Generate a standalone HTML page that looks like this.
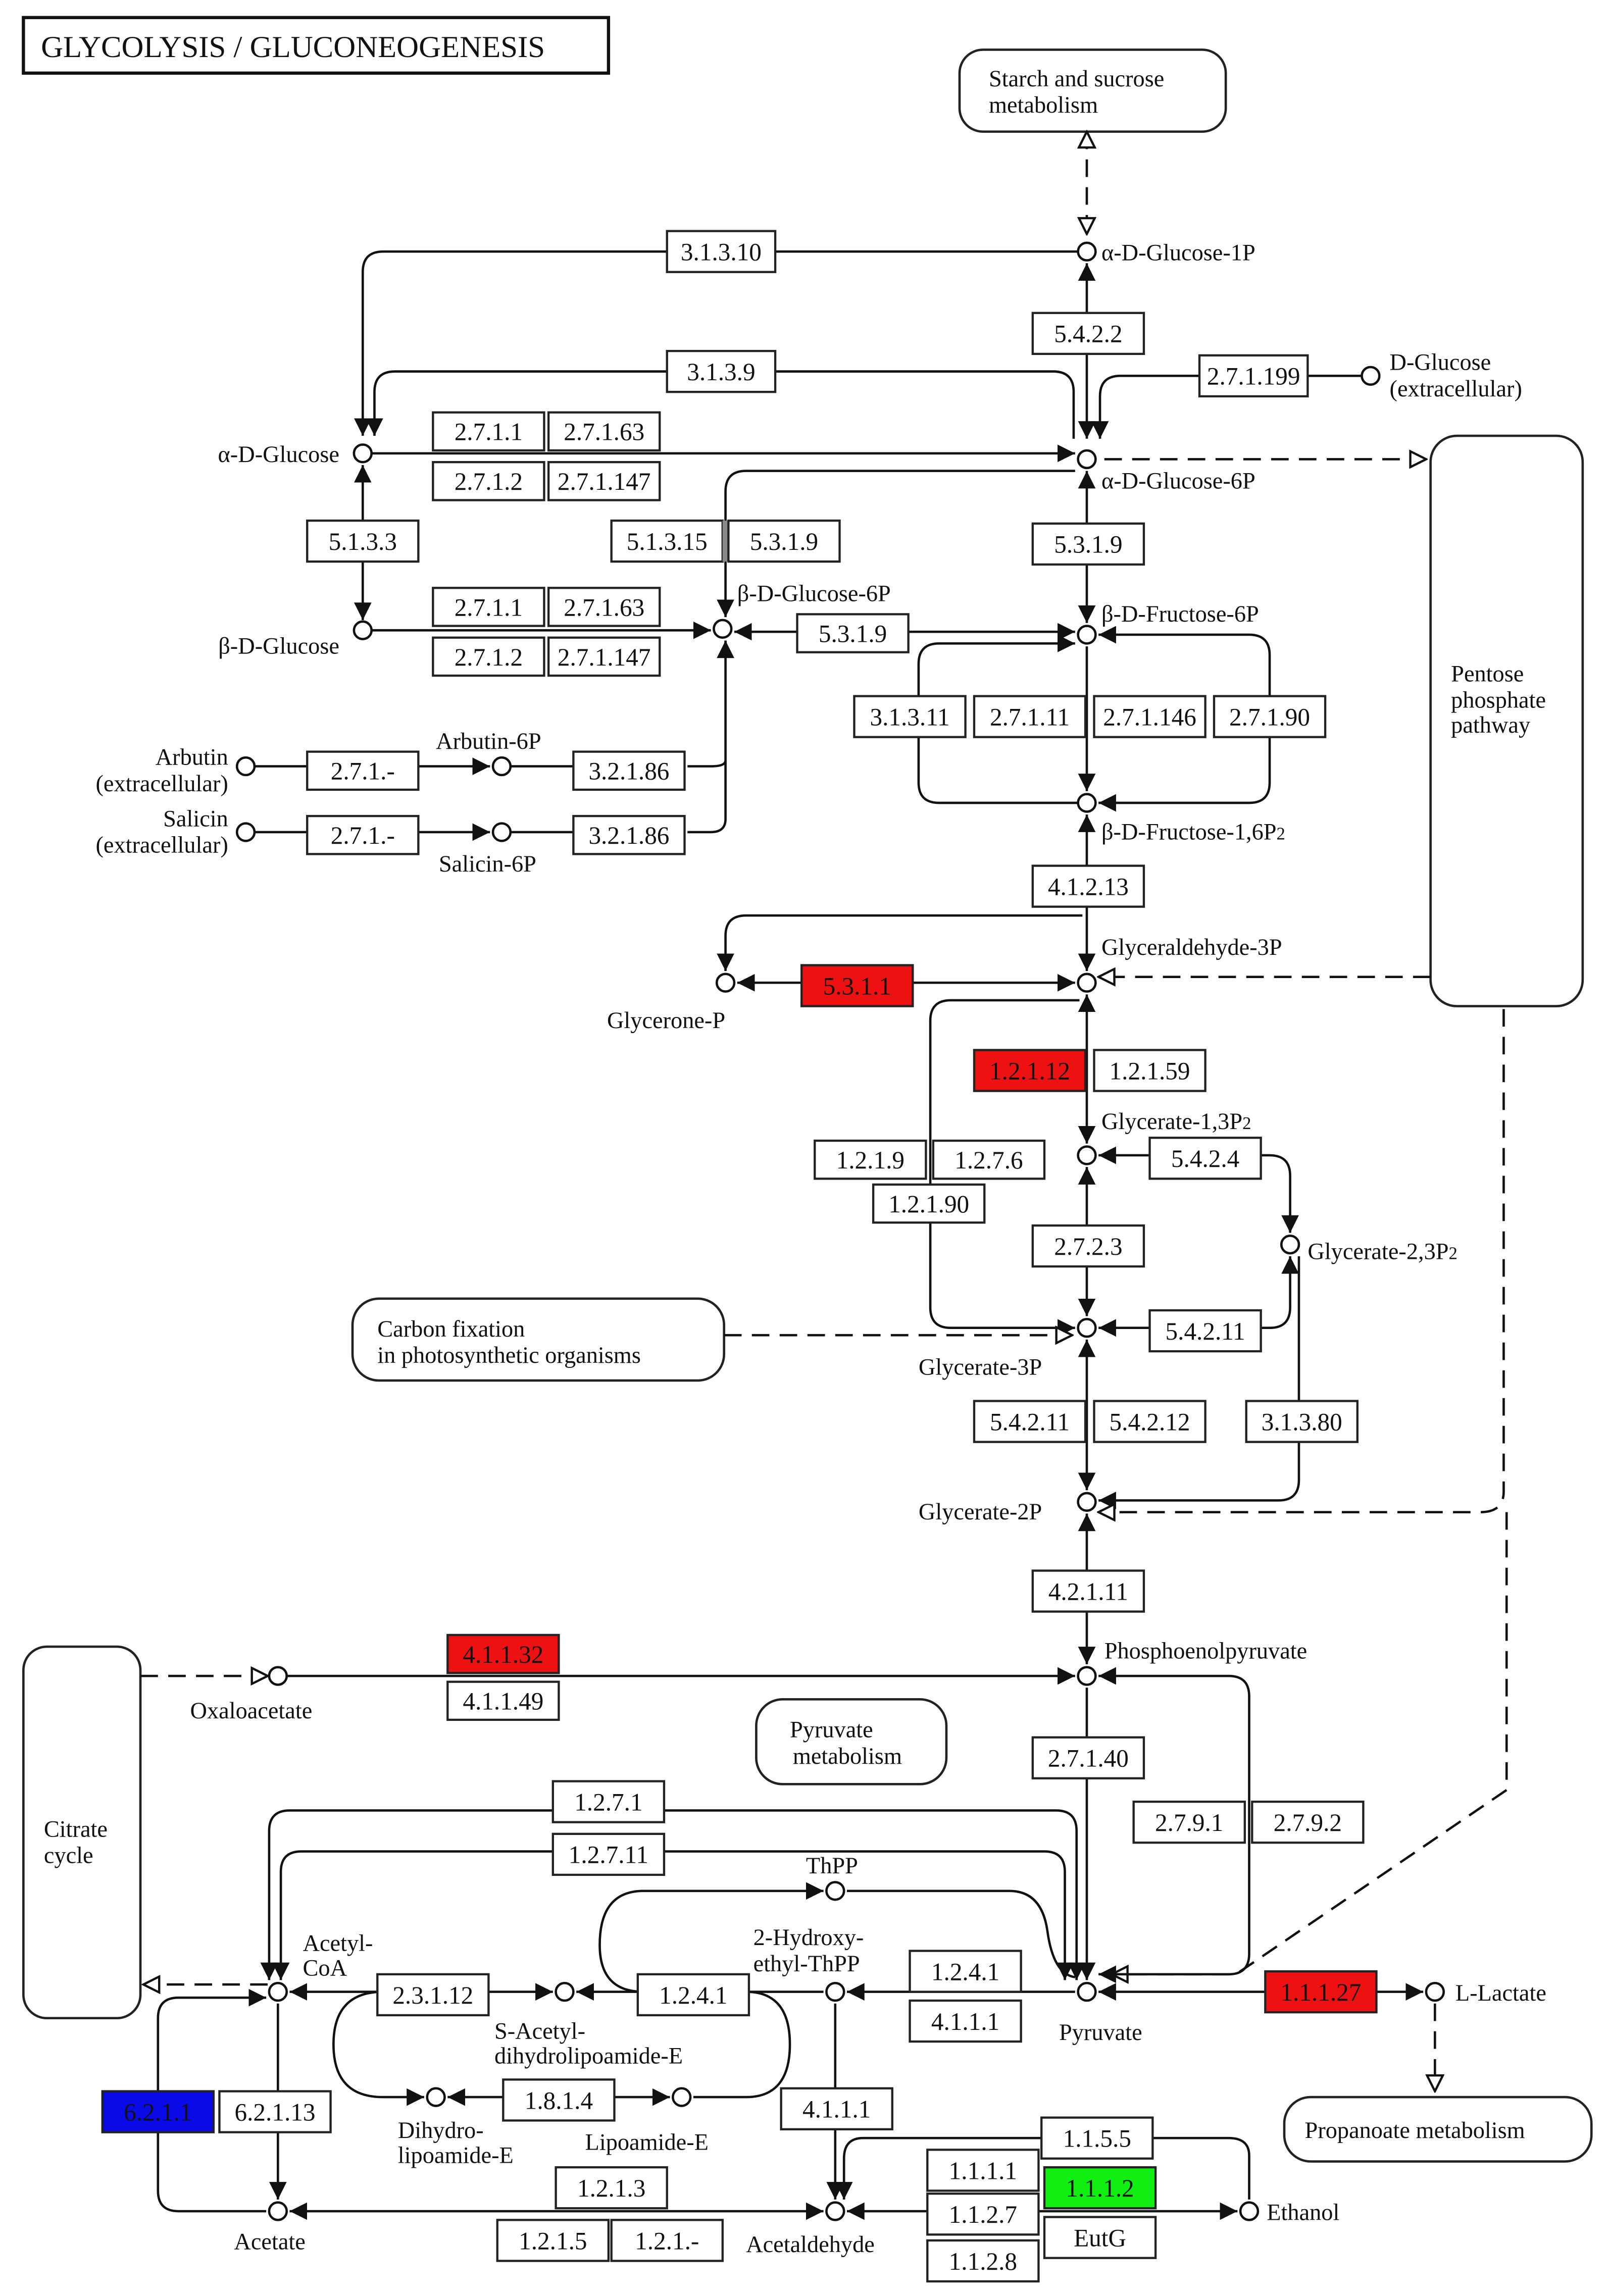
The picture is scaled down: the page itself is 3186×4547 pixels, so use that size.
<!DOCTYPE html>
<html><head><meta charset="utf-8"><style>
html,body{margin:0;padding:0;background:#fff}
svg{display:block}
text{font-family:"Liberation Serif",serif;fill:#111}
.b{fill:#fff;stroke:#222;stroke-width:1.5}
.t{font-size:17px;text-anchor:middle}
.l{font-size:16px}
.e{fill:none;stroke:#111;stroke-width:1.6}
.d{fill:none;stroke:#111;stroke-width:1.6;stroke-dasharray:12 7}
.n{fill:#fff;stroke:#111;stroke-width:1.6}
.m{fill:#fff;stroke:#222;stroke-width:1.6}
</style></head><body>
<svg width="3186" height="4547" viewBox="0 0 1100 1570" preserveAspectRatio="none" xmlns="http://www.w3.org/2000/svg">
<defs>
<marker id="a" viewBox="0 0 10 10" refX="10" refY="5" markerWidth="12" markerHeight="12" markerUnits="userSpaceOnUse" orient="auto-start-reverse"><path d="M0,0L10,5L0,10z" fill="#111"/></marker>
<marker id="o" viewBox="0 0 12 12" refX="11" refY="6" markerWidth="13" markerHeight="13" markerUnits="userSpaceOnUse" orient="auto-start-reverse"><path d="M1,1L11,6L1,11z" fill="#fff" stroke="#111" stroke-width="1.4"/></marker>
</defs>
<rect width="1100" height="1570" fill="#fff"/>
<rect x="16" y="12" width="400" height="38" fill="#fff" stroke="#111" stroke-width="2.2"/>
<text x="28" y="39" style="font-size:21px">GLYCOLYSIS / GLUCONEOGENESIS</text>

<rect class="m" x="656" y="34" width="182" height="56" rx="16"/>
<text class="l" x="676" y="59">Starch and sucrose</text><text class="l" x="676" y="77">metabolism</text>
<rect class="m" x="978" y="298" width="104" height="390" rx="18"/>
<text class="l" x="992" y="466">Pentose</text><text class="l" x="992" y="484">phosphate</text><text class="l" x="992" y="501">pathway</text>
<rect class="m" x="241" y="888" width="254" height="56" rx="18"/>
<text class="l" x="258" y="914">Carbon fixation</text><text class="l" x="258" y="932">in photosynthetic organisms</text>
<rect class="m" x="16" y="1126" width="80" height="254" rx="16"/>
<text class="l" x="30" y="1256">Citrate</text><text class="l" x="30" y="1274">cycle</text>
<rect class="m" x="517" y="1162" width="130" height="58" rx="18"/>
<text class="l" x="540" y="1188">Pyruvate</text><text class="l" x="542" y="1206">metabolism</text>
<rect class="m" x="878" y="1434" width="210" height="44" rx="18"/>
<text class="l" x="892" y="1462">Propanoate metabolism</text>

<path class="d" d="M743,90V160" marker-start="url(#o)" marker-end="url(#o)"/>
<path class="e" d="M743,180V300" marker-start="url(#a)" marker-end="url(#a)"/>
<path class="e" d="M737,172H262Q248,172 248,186V298" marker-end="url(#a)"/>
<path class="e" d="M734,300V268Q734,254 720,254H270Q256,254 256,268V298" marker-end="url(#a)"/>
<path class="e" d="M931,257H766Q752,257 752,271V300" marker-end="url(#a)"/>
<path class="e" d="M254,310H735" marker-end="url(#a)"/>
<path class="d" d="M755,314H975" marker-end="url(#o)"/>
<path class="e" d="M248,318V424" marker-start="url(#a)" marker-end="url(#a)"/>
<path class="e" d="M254,431H486" marker-end="url(#a)"/>
<path class="e" d="M735,322H510Q496,322 496,336V422" marker-end="url(#a)"/>
<path class="e" d="M502,432H735" marker-start="url(#a)" marker-end="url(#a)"/>
<path class="e" d="M496,438V520Q496,524 486,524H470M496,520V560Q496,569 486,569H470" marker-start="url(#a)"/>
<path class="e" d="M174,524H335" marker-end="url(#a)"/><path class="e" d="M349,524H392"/>
<path class="e" d="M174,569H335" marker-end="url(#a)"/><path class="e" d="M349,569H392"/>
<path class="e" d="M743,322V426" marker-start="url(#a)" marker-end="url(#a)"/>
<path class="e" d="M743,442V541" marker-end="url(#a)"/>
<path class="e" d="M735,440H642Q628,440 628,454V535Q628,549 642,549H737" marker-start="url(#a)"/>
<path class="e" d="M751,434H854Q868,434 868,448V535Q868,549 854,549H751" marker-start="url(#a)" marker-end="url(#a)"/>
<path class="e" d="M743,557V664" marker-start="url(#a)" marker-end="url(#a)"/>
<path class="e" d="M504,672H735" marker-start="url(#a)" marker-end="url(#a)"/>
<path class="e" d="M740,626H510Q496,626 496,640V664" marker-end="url(#a)"/>
<path class="d" d="M978,668H751" marker-end="url(#o)"/>
<path class="e" d="M743,680V782" marker-start="url(#a)" marker-end="url(#a)"/>
<path class="e" d="M738,684H650Q636,684 636,698V894Q636,908 650,908H735" marker-end="url(#a)"/>
<path class="e" d="M751,790H868Q882,790 882,804V843" marker-start="url(#a)" marker-end="url(#a)"/>
<path class="e" d="M743,798V900" marker-start="url(#a)" marker-end="url(#a)"/>
<path class="e" d="M882,859V894Q882,908 868,908H751" marker-start="url(#a)" marker-end="url(#a)"/>
<path class="d" d="M495,913H733" marker-end="url(#o)"/>
<path class="e" d="M743,916V1019" marker-start="url(#a)" marker-end="url(#a)"/>
<path class="e" d="M888,859V1012Q888,1026 874,1026H751" marker-end="url(#a)"/>
<path class="d" d="M1028,690V1020Q1028,1034 1012,1034H751" marker-end="url(#o)"/>
<path class="d" d="M1030,1034V1224L845,1350H760" marker-end="url(#o)"/>
<path class="e" d="M743,1035V1138" marker-start="url(#a)" marker-end="url(#a)"/>
<path class="d" d="M96,1146H183" marker-end="url(#o)"/>
<path class="e" d="M196,1146H735" marker-end="url(#a)"/>
<path class="e" d="M743,1154V1354" marker-end="url(#a)"/>
<path class="e" d="M751,1350H840Q854,1350 854,1336V1160Q854,1146 840,1146H751" marker-start="url(#a)" marker-end="url(#a)"/>
<path class="e" d="M751,1362H973" marker-start="url(#a)" marker-end="url(#a)"/>
<path class="d" d="M981,1370V1430" marker-end="url(#o)"/>
<path class="d" d="M183,1357H98" marker-end="url(#o)"/>
<path class="e" d="M184,1354V1252Q184,1238 198,1238H722Q736,1238 736,1252V1354" marker-start="url(#a)" marker-end="url(#a)"/>
<path class="e" d="M192,1354V1280Q192,1266 206,1266H714Q728,1266 728,1280V1354" marker-start="url(#a)" marker-end="url(#a)"/>
<path class="e" d="M735,1362H579" marker-end="url(#a)"/>
<path class="e" d="M440,1362Q410,1362 410,1330Q410,1293 440,1293H563" marker-end="url(#a)"/>
<path class="e" d="M579,1293H690Q712,1293 716,1320Q720,1350 735,1352"/>
<path class="e" d="M198,1362H378" marker-start="url(#a)" marker-end="url(#a)"/>
<path class="e" d="M563,1362H394" marker-end="url(#a)"/>
<path class="e" d="M262,1362Q228,1362 228,1398Q228,1434 262,1434H290" marker-end="url(#a)"/>
<path class="e" d="M510,1362Q540,1362 540,1398Q540,1434 510,1434H474"/>
<path class="e" d="M306,1434H458" marker-start="url(#a)" marker-end="url(#a)"/>
<path class="e" d="M571,1370V1504" marker-end="url(#a)"/>
<path class="e" d="M190,1370V1504" marker-end="url(#a)"/>
<path class="e" d="M182,1512H122Q108,1512 108,1498V1380Q108,1366 122,1366H182" marker-end="url(#a)"/>
<path class="e" d="M198,1512H563" marker-start="url(#a)" marker-end="url(#a)"/>
<path class="e" d="M579,1512H846" marker-start="url(#a)" marker-end="url(#a)"/>
<path class="e" d="M854,1504V1474Q854,1462 840,1462H590Q577,1462 577,1476V1504" marker-end="url(#a)"/>

<g>
<rect class="b" x="456" y="158" width="74" height="28"/><text class="t" x="493" y="178">3.1.3.10</text>
<rect class="b" x="706" y="214" width="76" height="28"/><text class="t" x="744" y="234">5.4.2.2</text>
<rect class="b" x="456" y="240" width="74" height="28"/><text class="t" x="493" y="260">3.1.3.9</text>
<rect class="b" x="820" y="243" width="74" height="28"/><text class="t" x="857" y="263">2.7.1.199</text>
<rect class="b" x="296" y="282" width="76" height="26"/><text class="t" x="334" y="301">2.7.1.1</text>
<rect class="b" x="375" y="282" width="76" height="26"/><text class="t" x="413" y="301">2.7.1.63</text>
<rect class="b" x="296" y="316" width="76" height="26"/><text class="t" x="334" y="335">2.7.1.2</text>
<rect class="b" x="375" y="316" width="76" height="26"/><text class="t" x="413" y="335">2.7.1.147</text>
<rect class="b" x="210" y="356" width="76" height="28"/><text class="t" x="248" y="376">5.1.3.3</text>
<rect class="b" x="418" y="356" width="76" height="28"/><text class="t" x="456" y="376">5.1.3.15</text>
<rect x="494" y="356" width="4" height="28" fill="#888"/>
<rect class="b" x="498" y="356" width="76" height="28"/><text class="t" x="536" y="376">5.3.1.9</text>
<rect class="b" x="706" y="358" width="76" height="28"/><text class="t" x="744" y="378">5.3.1.9</text>
<rect class="b" x="296" y="402" width="76" height="26"/><text class="t" x="334" y="421">2.7.1.1</text>
<rect class="b" x="375" y="402" width="76" height="26"/><text class="t" x="413" y="421">2.7.1.63</text>
<rect class="b" x="296" y="436" width="76" height="26"/><text class="t" x="334" y="455">2.7.1.2</text>
<rect class="b" x="375" y="436" width="76" height="26"/><text class="t" x="413" y="455">2.7.1.147</text>
<rect class="b" x="545" y="420" width="76" height="26"/><text class="t" x="583" y="439">5.3.1.9</text>
<rect class="b" x="584" y="476" width="76" height="28"/><text class="t" x="622" y="496">3.1.3.11</text>
<rect class="b" x="666" y="476" width="76" height="28"/><text class="t" x="704" y="496">2.7.1.11</text>
<rect class="b" x="748" y="476" width="76" height="28"/><text class="t" x="786" y="496">2.7.1.146</text>
<rect class="b" x="830" y="476" width="76" height="28"/><text class="t" x="868" y="496">2.7.1.90</text>
<rect class="b" x="210" y="514" width="76" height="26"/><text class="t" x="248" y="533">2.7.1.-</text>
<rect class="b" x="392" y="514" width="76" height="26"/><text class="t" x="430" y="533">3.2.1.86</text>
<rect class="b" x="210" y="558" width="76" height="26"/><text class="t" x="248" y="577">2.7.1.-</text>
<rect class="b" x="392" y="558" width="76" height="26"/><text class="t" x="430" y="577">3.2.1.86</text>
<rect class="b" x="706" y="592" width="76" height="28"/><text class="t" x="744" y="612">4.1.2.13</text>
<rect x="548" y="660" width="76" height="28" fill="#ee1111" stroke="#222" stroke-width="1.5"/><text class="t" x="586" y="680">5.3.1.1</text>
<rect x="666" y="718" width="76" height="28" fill="#ee1111" stroke="#222" stroke-width="1.5"/><text class="t" x="704" y="738">1.2.1.12</text>
<rect class="b" x="748" y="718" width="76" height="28"/><text class="t" x="786" y="738">1.2.1.59</text>
<rect class="b" x="557" y="780" width="76" height="26"/><text class="t" x="595" y="799">1.2.1.9</text>
<rect class="b" x="638" y="780" width="76" height="26"/><text class="t" x="676" y="799">1.2.7.6</text>
<rect class="b" x="597" y="810" width="76" height="26"/><text class="t" x="635" y="829">1.2.1.90</text>
<rect class="b" x="786" y="778" width="76" height="28"/><text class="t" x="824" y="798">5.4.2.4</text>
<rect class="b" x="706" y="838" width="76" height="28"/><text class="t" x="744" y="858">2.7.2.3</text>
<rect class="b" x="786" y="896" width="76" height="28"/><text class="t" x="824" y="916">5.4.2.11</text>
<rect class="b" x="666" y="958" width="76" height="28"/><text class="t" x="704" y="978">5.4.2.11</text>
<rect class="b" x="748" y="958" width="76" height="28"/><text class="t" x="786" y="978">5.4.2.12</text>
<rect class="b" x="852" y="958" width="76" height="28"/><text class="t" x="890" y="978">3.1.3.80</text>
<rect class="b" x="706" y="1074" width="76" height="28"/><text class="t" x="744" y="1094">4.2.1.11</text>
<rect x="306" y="1118" width="76" height="26" fill="#ee1111" stroke="#222" stroke-width="1.5"/><text class="t" x="344" y="1137">4.1.1.32</text>
<rect class="b" x="306" y="1150" width="76" height="26"/><text class="t" x="344" y="1169">4.1.1.49</text>
<rect class="b" x="706" y="1188" width="76" height="28"/><text class="t" x="744" y="1208">2.7.1.40</text>
<rect class="b" x="775" y="1232" width="76" height="28"/><text class="t" x="813" y="1252">2.7.9.1</text>
<rect class="b" x="856" y="1232" width="76" height="28"/><text class="t" x="894" y="1252">2.7.9.2</text>
<rect class="b" x="378" y="1218" width="76" height="28"/><text class="t" x="416" y="1238">1.2.7.1</text>
<rect class="b" x="378" y="1254" width="76" height="28"/><text class="t" x="416" y="1274">1.2.7.11</text>
<rect class="b" x="622" y="1334" width="76" height="28"/><text class="t" x="660" y="1354">1.2.4.1</text>
<rect class="b" x="622" y="1368" width="76" height="28"/><text class="t" x="660" y="1388">4.1.1.1</text>
<rect x="865" y="1348" width="76" height="28" fill="#ee1111" stroke="#222" stroke-width="1.5"/><text class="t" x="903" y="1368">1.1.1.27</text>
<rect class="b" x="258" y="1350" width="76" height="28"/><text class="t" x="296" y="1370">2.3.1.12</text>
<rect class="b" x="436" y="1350" width="76" height="28"/><text class="t" x="474" y="1370">1.2.4.1</text>
<rect x="70" y="1430" width="76" height="28" fill="#0a0ae8" stroke="#222" stroke-width="1.5"/><text class="t" x="108" y="1450">6.2.1.1</text>
<rect class="b" x="150" y="1430" width="76" height="28"/><text class="t" x="188" y="1450">6.2.1.13</text>
<rect class="b" x="344" y="1422" width="76" height="28"/><text class="t" x="382" y="1442">1.8.1.4</text>
<rect class="b" x="534" y="1428" width="76" height="28"/><text class="t" x="572" y="1448">4.1.1.1</text>
<rect class="b" x="712" y="1448" width="76" height="28"/><text class="t" x="750" y="1468">1.1.5.5</text>
<rect class="b" x="634" y="1470" width="76" height="28"/><text class="t" x="672" y="1490">1.1.1.1</text>
<rect x="714" y="1482" width="76" height="28" fill="#11ee11" stroke="#222" stroke-width="1.5"/><text class="t" x="752" y="1502">1.1.1.2</text>
<rect class="b" x="380" y="1482" width="76" height="28"/><text class="t" x="418" y="1502">1.2.1.3</text>
<rect class="b" x="634" y="1500" width="76" height="28"/><text class="t" x="672" y="1520">1.1.2.7</text>
<rect class="b" x="714" y="1516" width="76" height="28"/><text class="t" x="752" y="1536">EutG</text>
<rect class="b" x="340" y="1518" width="76" height="28"/><text class="t" x="378" y="1538">1.2.1.5</text>
<rect class="b" x="418" y="1518" width="76" height="28"/><text class="t" x="456" y="1538">1.2.1.-</text>
<rect class="b" x="634" y="1532" width="76" height="28"/><text class="t" x="672" y="1552">1.1.2.8</text>
</g>

<g>
<circle class="n" cx="743" cy="172" r="6"/><circle class="n" cx="743" cy="314" r="6"/>
<circle class="n" cx="937" cy="257" r="6"/><circle class="n" cx="248" cy="310" r="6"/>
<circle class="n" cx="248" cy="431" r="6"/><circle class="n" cx="494" cy="430" r="6"/>
<circle class="n" cx="743" cy="434" r="6"/><circle class="n" cx="743" cy="549" r="6"/>
<circle class="n" cx="168" cy="524" r="6"/><circle class="n" cx="343" cy="524" r="6"/>
<circle class="n" cx="168" cy="569" r="6"/><circle class="n" cx="343" cy="569" r="6"/>
<circle class="n" cx="743" cy="672" r="6"/><circle class="n" cx="496" cy="672" r="6"/>
<circle class="n" cx="743" cy="790" r="6"/><circle class="n" cx="882" cy="851" r="6"/>
<circle class="n" cx="743" cy="908" r="6"/><circle class="n" cx="743" cy="1027" r="6"/>
<circle class="n" cx="743" cy="1146" r="6"/><circle class="n" cx="190" cy="1146" r="6"/>
<circle class="n" cx="743" cy="1362" r="6"/><circle class="n" cx="981" cy="1362" r="6"/>
<circle class="n" cx="190" cy="1362" r="6"/><circle class="n" cx="386" cy="1362" r="6"/>
<circle class="n" cx="571" cy="1362" r="6"/><circle class="n" cx="571" cy="1293" r="6"/>
<circle class="n" cx="298" cy="1434" r="6"/><circle class="n" cx="466" cy="1434" r="6"/>
<circle class="n" cx="190" cy="1512" r="6"/><circle class="n" cx="571" cy="1512" r="6"/>
<circle class="n" cx="854" cy="1512" r="6"/>
</g>

<g>
<text class="l" x="753" y="178">α-D-Glucose-1P</text>
<text class="l" x="753" y="334">α-D-Glucose-6P</text>
<text class="l" x="950" y="253">D-Glucose</text><text class="l" x="950" y="271">(extracellular)</text>
<text class="l" x="232" y="316" text-anchor="end">α-D-Glucose</text>
<text class="l" x="232" y="447" text-anchor="end">β-D-Glucose</text>
<text class="l" x="504" y="411">β-D-Glucose-6P</text>
<text class="l" x="753" y="425">β-D-Fructose-6P</text>
<text class="l" x="753" y="574">β-D-Fructose-1,6P<tspan style="font-size:12px">2</tspan></text>
<text class="l" x="156" y="523" text-anchor="end">Arbutin</text><text class="l" x="156" y="541" text-anchor="end">(extracellular)</text>
<text class="l" x="298" y="512">Arbutin-6P</text>
<text class="l" x="156" y="565" text-anchor="end">Salicin</text><text class="l" x="156" y="583" text-anchor="end">(extracellular)</text>
<text class="l" x="300" y="596">Salicin-6P</text>
<text class="l" x="753" y="653">Glyceraldehyde-3P</text>
<text class="l" x="415" y="703">Glycerone-P</text>
<text class="l" x="753" y="772">Glycerate-1,3P<tspan style="font-size:12px">2</tspan></text>
<text class="l" x="894" y="861">Glycerate-2,3P<tspan style="font-size:12px">2</tspan></text>
<text class="l" x="628" y="940">Glycerate-3P</text>
<text class="l" x="628" y="1039">Glycerate-2P</text>
<text class="l" x="755" y="1134">Phosphoenolpyruvate</text>
<text class="l" x="130" y="1175">Oxaloacetate</text>
<text class="l" x="724" y="1395">Pyruvate</text>
<text class="l" x="995" y="1368">L-Lactate</text>
<text class="l" x="207" y="1334">Acetyl-</text><text class="l" x="207" y="1351">CoA</text>
<text class="l" x="338" y="1394">S-Acetyl-</text><text class="l" x="338" y="1411">dihydrolipoamide-E</text>
<text class="l" x="515" y="1330">2-Hydroxy-</text><text class="l" x="515" y="1348">ethyl-ThPP</text>
<text class="l" x="551" y="1281">ThPP</text>
<text class="l" x="272" y="1462">Dihydro-</text><text class="l" x="272" y="1479">lipoamide-E</text>
<text class="l" x="400" y="1470">Lipoamide-E</text>
<text class="l" x="160" y="1538">Acetate</text>
<text class="l" x="510" y="1540">Acetaldehyde</text>
<text class="l" x="866" y="1518">Ethanol</text>
</g>
</svg>
</body></html>
